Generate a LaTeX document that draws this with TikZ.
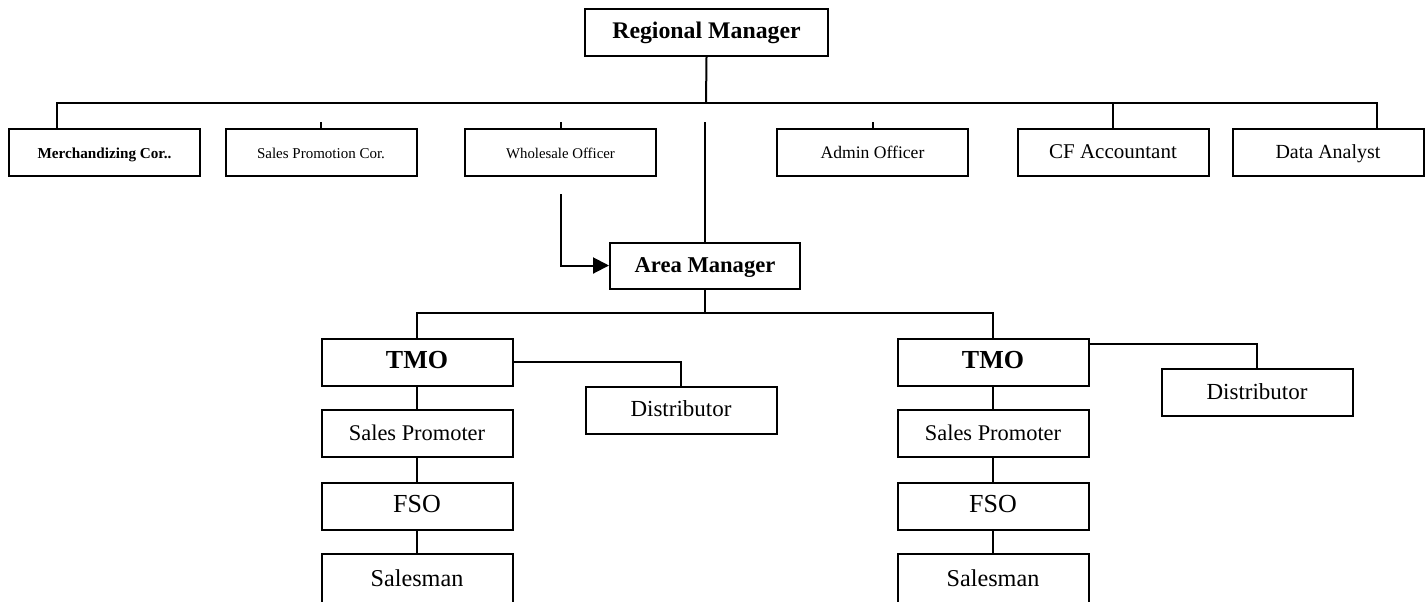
\documentclass[tikz,border=0pt]{standalone}
\usepackage{fontspec}
\setmainfont{Liberation Serif}
\usetikzlibrary{arrows.meta, positioning}

\tikzset{
  orgbox/.style={draw, line width=1pt, minimum width=95.5pt, minimum height=23.5pt, inner sep=1pt, align=center, text height=0.66em, text depth=0pt},
  link/.style={line width=1pt},
  tinytext/.style={font=\fontsize{7.5}{9}\selectfont},
  smalltext/.style={font=\fontsize{#1}{11}\selectfont},
  bodytext/.style={font=\fontsize{#1}{13}\selectfont},
  headtext/.style={font=\bfseries\fontsize{#1}{13}\selectfont},
}

\begin{document}
\begin{tikzpicture}[x=0.5pt, y=-0.5pt]
  \useasboundingbox (0,0) rectangle (1427,601);
  \clip (0,0) rectangle (1427,601);

  % Regional level
  \node[orgbox, headtext=11.9, minimum width=121.5pt] (rm) at (706.5,32) {Regional Manager};

  \node[orgbox, font=\bfseries\fontsize{7.6}{9}\selectfont] (merch) at (104.5,152) {Merchandizing Cor..};
  \node[orgbox, tinytext] (salesprom) at (321,152) {Sales Promotion Cor.};
  \node[orgbox, tinytext, font=\fontsize{7.4}{9}\selectfont] (wholesale) at (560.5,152) {Wholesale Officer};
  \node[orgbox, smalltext=8.8] (admin) at (872.5,152) {Admin Officer};
  \node[orgbox, smalltext=10.5] (cfacc) at (1113,152) {CF Accountant};
  \node[orgbox, smalltext=10] (analyst) at (1328,152) {Data Analyst};

  \coordinate (topbus) at (706,103);
  \draw[link] (rm.south) -- (topbus);
  \draw[link] ([xshift=-23.75pt]merch.north) |- (topbus) -| ([xshift=24.5pt]analyst.north);
  \draw[link] (cfacc.north) -- (cfacc.north |- topbus);
  \draw[link] (salesprom.north) -- ++(0,-6);
  \draw[link] (wholesale.north) -- ++(0,-6);
  \draw[link] (admin.north) -- ++(0,-6);

  % Area level
  \node[orgbox, headtext=11.3, minimum width=95pt, minimum height=23pt] (am) at (705,265.5) {Area Manager};
  \coordinate (midtop) at (705,122);
  \coordinate (wsarrow) at (561,194);
  \draw[link] (midtop) -- (am.north);
  \draw[link, -{Triangle[length=8pt, width=8pt]}] (wsarrow) |- (am.west);

  % Territory level
  \node[orgbox, headtext=13] (tmoL) at (417,362) {TMO};
  \node[orgbox, headtext=13] (tmoR) at (993,362) {TMO};
  \node[orgbox, bodytext=11.5] (distL) at (681,410) {Distributor};
  \node[orgbox, bodytext=11.5] (distR) at (1257,392.5) {Distributor};

  \coordinate (ambus) at (705,313);
  \draw[link] (am.south) -- (ambus);
  \draw[link] (tmoL.north) |- (ambus) -| (tmoR.north);
  \draw[link] (tmoL.east) -| (distL.north);
  \draw[link] ([yshift=-3pt]tmoR.north east) -| (distR.north);

  % Field staff
  \node[orgbox, bodytext=11.2] (spL) at (417,433.5) {Sales Promoter};
  \node[orgbox, bodytext=13] (fsoL) at (417,506) {FSO};
  \node[orgbox, bodytext=12.1, minimum height=26pt] (smL) at (417,580) {Salesman};
  \node[orgbox, bodytext=11.2] (spR) at (993,433.5) {Sales Promoter};
  \node[orgbox, bodytext=13] (fsoR) at (993,506) {FSO};
  \node[orgbox, bodytext=12.1, minimum height=26pt] (smR) at (993,580) {Salesman};

  \draw[link] (tmoL) -- (spL) -- (fsoL) -- (smL);
  \draw[link] (tmoR) -- (spR) -- (fsoR) -- (smR);
\end{tikzpicture}
\end{document}
